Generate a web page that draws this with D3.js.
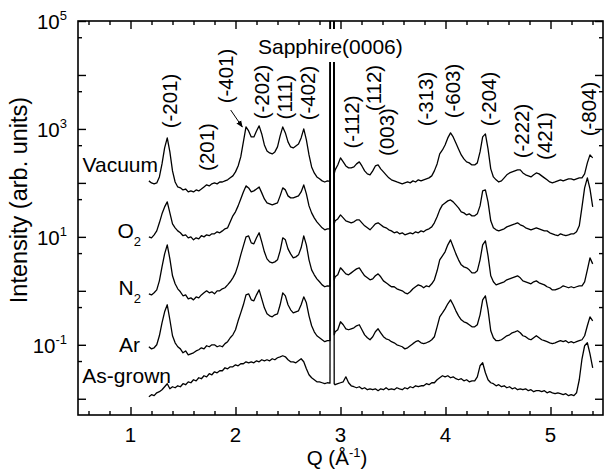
<!DOCTYPE html>
<html>
<head>
<meta charset="utf-8">
<script src="https://cdn.jsdelivr.net/npm/d3@7"></script>
<style>
  body { margin: 0; background: #fff; }
  text { font-family: "Liberation Sans", Arial, sans-serif; fill: #000; }
</style>
</head>
<body>
<svg id="chart"></svg>
<script>
var WIDTH = 612;
var HEIGHT = 472;

// Q grid (1/A), shared by every scan; the four points around 2.92 are the sapphire spike
var q = [1.175,1.2,1.225,1.25,1.275,1.3,1.325,1.35,1.375,1.4,1.425,1.45,1.475,1.5,1.525,1.55,1.575,1.6,1.625,1.65,
  1.675,1.7,1.725,1.75,1.775,1.8,1.825,1.85,1.875,1.9,1.925,1.95,1.975,2,2.025,2.05,2.075,2.1,2.125,2.15,
  2.175,2.2,2.225,2.25,2.275,2.3,2.325,2.35,2.375,2.4,2.425,2.45,2.475,2.5,2.525,2.55,2.575,2.6,2.625,2.65,
  2.675,2.7,2.725,2.75,2.775,2.8,2.825,2.85,2.875,
  2.9,2.905,2.935,2.94,
  2.949,2.974,3,3.026,3.051,3.077,3.102,3.128,3.153,3.179,3.204,3.23,3.256,3.281,3.307,3.332,3.358,3.383,3.409,3.434,
  3.46,3.485,3.511,3.537,3.562,3.588,3.613,3.639,3.664,3.69,3.715,3.741,3.767,3.792,3.818,3.843,3.869,3.894,3.92,3.945,
  3.971,3.996,4.022,4.048,4.073,4.099,4.124,4.15,4.175,4.201,4.226,4.252,4.278,4.303,4.329,4.354,4.38,4.405,4.431,4.456,
  4.482,4.507,4.533,4.559,4.584,4.61,4.635,4.661,4.686,4.712,4.737,4.763,4.789,4.814,4.84,4.865,4.891,4.916,4.942,4.967,
  4.993,5.018,5.044,5.07,5.095,5.121,5.146,5.172,5.197,5.223,5.248,5.274,5.3,5.325,5.351,5.376,5.402];

var vacuum = [109,100,96,100,129,225,445,681,375,167,104,84,81,74,77,68,71,68,74,71,
  77,84,92,88,96,100,96,104,104,109,114,124,135,160,206,303,575,1089,918,711,
  711,918,1137,808,505,391,359,344,375,464,742,1089,843,575,464,445,484,528,681,1000,
  626,330,198,153,129,119,109,104,109,
  107,1e7,1e7,147,
  174,215,291,245,206,190,190,198,225,245,206,167,147,141,167,206,215,182,160,
  141,124,114,109,104,100,96,100,104,100,109,104,114,109,114,119,124,135,167,225,
  344,408,505,681,843,711,551,426,330,278,245,235,215,215,235,375,711,808,426,182,
  129,114,104,109,124,141,153,160,167,174,174,153,141,135,129,141,153,147,135,124,
  114,104,100,104,109,114,109,114,119,119,114,119,124,124,147,235,330,291];

var o2 = [10,9.6,10.9,12.9,18.2,26.7,35.9,44.5,27.8,17.4,14.7,12.9,11.9,10.5,10.9,9.6,10,8.8,9.6,9.2,
  10.5,10,10.9,10.5,11.4,11.4,12.4,11.9,12.9,14.1,14.7,19,24.5,29.1,37.5,50.5,68.1,88,80.8,68.1,
  71.1,77.4,84.3,65.3,50.5,42.6,40.8,39.1,40.8,42.6,57.5,80.8,74.2,57.5,52.8,52.8,55.1,57.5,68.1,91.8,
  62.6,37.5,27.8,22.5,19,16.7,14.7,13.5,14.1,
  14,1e7,1e7,17.4,
  19.8,21.5,25.5,22.5,19.8,19,18.2,19,20.6,20.6,18.2,16,14.7,13.5,15.3,17.4,18.2,16.7,15.3,
  14.7,13.5,12.9,11.9,12.4,11.4,11.9,10.9,11.4,11.9,11.4,12.4,11.9,12.9,12.4,13.5,14.1,15.3,18.2,23.5,
  31.6,39.1,42.6,46.4,48.4,44.5,39.1,34.4,29.1,27.8,25.5,26.7,24.5,24.5,26.7,37.5,71.1,74.2,44.5,19.8,
  14.7,13.5,12.9,13.5,14.1,15.3,16,16.7,17.4,18.2,16.7,16,14.7,14.1,13.5,14.1,14.7,14.1,13.5,12.9,
  12.9,11.9,11.4,10.9,10.5,11.4,10.9,10.5,10.9,11.4,11.4,12.4,16,35.9,80.8,124,77.4,35.9];

var n2 = [0.88,0.84,0.92,1.04,1.53,2.78,4.84,7.11,3.91,1.9,1.35,1.09,0.96,0.81,0.84,0.71,0.74,0.68,0.77,0.74,
  0.84,0.92,1,0.92,0.96,0.88,1,1,1.09,1.14,1.29,1.47,1.74,2.15,3.03,4.64,6.81,10,10.4,7.74,
  7.42,9.6,11.9,8.08,5.28,3.91,3.44,3.3,3.44,3.75,5.51,9.6,8.8,5.99,4.84,4.08,4.26,4.64,6.26,10.4,
  7.11,3.75,2.45,1.98,1.67,1.47,1.29,1.19,1.24,
  1.22,1e7,1e7,1.6,
  1.82,1.98,2.67,2.35,2.06,1.98,2.15,2.35,2.55,2.67,2.25,1.9,1.74,1.6,1.67,1.9,2.06,1.82,1.53,
  1.41,1.29,1.19,1.19,1.09,1.04,1,0.92,0.88,0.96,1.09,1.19,1.29,1.24,1.14,1.24,1.19,1.35,1.6,2.35,
  3.75,4.45,5.28,7.11,8.8,6.53,4.84,3.75,3.03,2.78,2.67,2.45,2.15,2.15,2.35,3.75,7.11,8.43,4.45,1.9,
  1.47,1.29,1.35,1.41,1.47,1.6,1.67,1.74,1.82,1.9,1.74,1.53,1.47,1.41,1.35,1.47,1.53,1.41,1.35,1.29,
  1.19,1.14,1.04,1.04,1.09,1.14,1.24,1.19,1.14,1.19,1.14,1.19,1.24,1.24,1.47,2.45,4.08,3.16];

var ar = [0.092,0.084,0.088,0.1,0.147,0.255,0.408,0.551,0.291,0.147,0.109,0.092,0.084,0.071,0.077,0.065,0.068,0.071,0.077,0.081,
  0.088,0.084,0.096,0.092,0.1,0.1,0.092,0.096,0.092,0.105,0.114,0.135,0.153,0.19,0.278,0.391,0.551,0.843,0.88,0.681,
  0.653,0.843,1.04,0.711,0.484,0.375,0.344,0.33,0.359,0.375,0.551,0.918,0.808,0.551,0.445,0.391,0.408,0.426,0.551,0.774,
  0.599,0.344,0.225,0.174,0.147,0.135,0.124,0.114,0.119,
  0.12,1e7,1e7,0.153,
  0.174,0.19,0.267,0.235,0.198,0.19,0.198,0.206,0.225,0.235,0.19,0.153,0.135,0.124,0.141,0.174,0.198,0.167,0.141,
  0.129,0.124,0.114,0.109,0.1,0.096,0.092,0.084,0.088,0.096,0.105,0.114,0.119,0.109,0.105,0.109,0.114,0.124,0.141,0.215,
  0.33,0.391,0.464,0.575,0.681,0.551,0.426,0.344,0.291,0.267,0.255,0.235,0.215,0.215,0.235,0.359,0.681,0.808,0.445,0.182,
  0.135,0.119,0.119,0.124,0.135,0.147,0.153,0.167,0.174,0.182,0.167,0.147,0.141,0.129,0.124,0.135,0.147,0.135,0.124,0.119,
  0.114,0.109,0.105,0.109,0.114,0.119,0.114,0.119,0.109,0.114,0.109,0.114,0.119,0.124,0.147,0.225,0.33,0.278];

var asGrown = [0.0109,0.0119,0.0114,0.0129,0.0135,0.0147,0.0167,0.019,0.0153,0.0167,0.016,0.0174,0.0167,0.019,0.0182,0.0206,0.0198,0.0225,0.0215,0.0245,
  0.0235,0.0267,0.0255,0.0291,0.0278,0.0316,0.0303,0.033,0.033,0.0375,0.0359,0.0391,0.0391,0.0426,0.0408,0.0445,0.0445,0.0484,0.0464,0.0484,
  0.0464,0.0505,0.0484,0.0528,0.0505,0.0528,0.0505,0.0551,0.0528,0.0575,0.0599,0.0626,0.0599,0.0528,0.0484,0.0484,0.0464,0.0505,0.0551,0.0484,
  0.0359,0.0278,0.0245,0.0225,0.0206,0.0206,0.0198,0.019,0.0198,
  0.0195,1e7,1e7,0.019,
  0.0182,0.019,0.0198,0.0206,0.0255,0.0198,0.0174,0.0167,0.016,0.0167,0.0153,0.016,0.0147,0.0153,0.0147,0.0153,0.0141,0.0153,0.0147,
  0.016,0.0147,0.0153,0.0147,0.016,0.0153,0.0147,0.016,0.0153,0.0167,0.016,0.0174,0.0167,0.0174,0.0174,0.019,0.0182,0.0198,0.0198,0.0225,
  0.0245,0.0267,0.0255,0.0267,0.0245,0.0255,0.0235,0.0225,0.0235,0.0215,0.0225,0.0206,0.0215,0.0215,0.0255,0.0408,0.0464,0.0303,0.0225,0.0198,
  0.019,0.0174,0.0182,0.0167,0.0174,0.016,0.0167,0.0153,0.016,0.0147,0.0153,0.0147,0.0153,0.0141,0.0147,0.0135,0.0141,0.0141,0.0135,0.0141,
  0.0129,0.0135,0.0129,0.0124,0.0129,0.0124,0.0119,0.0124,0.0114,0.0119,0.0114,0.0129,0.0225,0.0551,0.096,0.109,0.0681,0.0375];

var seriesNames = ['Vacuum', 'O2', 'N2', 'Ar', 'As-grown'];
var seriesValues = [vacuum, o2, n2, ar, asGrown];

// reflection labels and the Q they sit over
var peakNames = ['(-201)','(201)','(-401)','(-202)','(111)','(-402)','(-112)','(112)','(003)','(-313)','(-603)','(-204)','(-222)','(421)','(-804)'];
var peakQ = [1.37,1.725,1.9,2.245,2.47,2.687,3.102,3.317,3.436,3.812,4.063,4.405,4.723,4.942,5.365];
// vertical centre of each rotated label, px
var peakLabelY = [101,147,76,92,97,93,122,88,132,99,91,99,131,136,109];

var xMajor = [1, 2, 3, 4, 5];
var xMinor = [0.6,0.8,1.2,1.4,1.6,1.8,2.2,2.4,2.6,2.8,3.2,3.4,3.6,3.8,4.2,4.4,4.6,4.8,5.2,5.4];
var yMajor = [0.01, 0.1, 1, 10, 100, 1000, 10000, 100000];
var yMinor = [0.05, 0.5, 5, 50, 500, 5000, 50000];
var yLabelExp = [-1, 1, 3, 5];

var L = 78, R = 603, T = 21, B = 415;

var svg = d3.select('#chart')
  .attr('width', WIDTH)
  .attr('height', HEIGHT);

var xScale = d3.scaleLinear().domain([0.5, 5.5]).range([L, R]);
var yScale = d3.scaleLog().domain([0.005, 1e5]).range([B, T]);

svg.append('defs').append('clipPath').attr('id', 'plot-clip')
  .append('rect')
  .attr('x', L).attr('y', T)
  .attr('width', R - L).attr('height', B - T);

var line = d3.line()
  .x(function(d){ return xScale(d[0]); })
  .y(function(d){ return yScale(d[1]); });

svg.append('g')
  .attr('clip-path', 'url(#plot-clip)')
  .selectAll('path')
  .data(seriesValues)
  .enter()
  .append('path')
  .attr('d', function(values){
    return line(values.map(function(v, i){ return [q[i], v]; }));
  })
  .attr('fill', 'none')
  .attr('stroke', '#000')
  .attr('stroke-width', 1.3)
  .attr('stroke-linejoin', 'round');

// axes: frame plus inward ticks on all four sides
var axisGroups = [
  { axis: d3.axisBottom, scale: xScale, at: 'translate(0,' + B + ')', major: xMajor, minor: xMinor },
  { axis: d3.axisTop, scale: xScale, at: 'translate(0,' + T + ')', major: xMajor, minor: xMinor },
  { axis: d3.axisLeft, scale: yScale, at: 'translate(' + L + ',0)', major: yMajor, minor: yMinor },
  { axis: d3.axisRight, scale: yScale, at: 'translate(' + R + ',0)', major: yMajor, minor: yMinor }
];
axisGroups.forEach(function(a){
  [[a.major, 8], [a.minor, 4]].forEach(function(set){
    var g = svg.append('g')
      .attr('transform', a.at)
      .call(a.axis(a.scale).tickValues(set[0]).tickSize(-set[1]).tickFormat(''));
    g.select('.domain').remove();
    g.selectAll('line').attr('stroke', '#000').attr('stroke-width', 1.4);
  });
});

svg.append('rect')
  .attr('x', L).attr('y', T)
  .attr('width', R - L).attr('height', B - T)
  .attr('fill', 'none')
  .attr('stroke', '#000')
  .attr('stroke-width', 1.6);

// tick labels
svg.append('g').selectAll('text')
  .data(xMajor)
  .enter()
  .append('text')
  .attr('x', function(d){ return xScale(d); })
  .attr('y', 442)
  .attr('text-anchor', 'middle')
  .attr('font-size', 20.5)
  .text(function(d){ return d; });

var yLabels = svg.append('g').selectAll('text')
  .data(yLabelExp)
  .enter()
  .append('text')
  .attr('x', 67)
  .attr('y', function(d){ return yScale(Math.pow(10, d)) + 8; })
  .attr('text-anchor', 'end')
  .attr('font-size', 20.5);
yLabels.append('tspan').text('10');
yLabels.append('tspan').attr('dy', -9).attr('font-size', 13).text(function(d){ return d; });

// axis titles
var xTitle = svg.append('text')
  .attr('x', 337).attr('y', 465)
  .attr('text-anchor', 'middle')
  .attr('font-size', 20.5);
xTitle.append('tspan').text('Q (\u00C5');
xTitle.append('tspan').attr('dy', -8).attr('font-size', 13).text('-1');
xTitle.append('tspan').attr('dy', 8).text(')');

svg.append('text')
  .attr('transform', 'translate(27,200) rotate(-90)')
  .attr('text-anchor', 'middle')
  .attr('font-size', 23.5)
  .text('Intensity (arb. units)');

// sample names
var nameX = [158, 141, 141, 140, 171];
var nameY = [172, 238, 295, 352, 383];
var names = svg.append('g').selectAll('text')
  .data(seriesNames)
  .enter()
  .append('text')
  .attr('x', function(d, i){ return nameX[i]; })
  .attr('y', function(d, i){ return nameY[i]; })
  .attr('text-anchor', 'end')
  .attr('font-size', 21);
names.each(function(d){
  var t = d3.select(this);
  if (d === 'O2' || d === 'N2') {
    t.append('tspan').text(d.charAt(0));
    t.append('tspan').attr('dy', 8).attr('font-size', 13).text('2');
  } else {
    t.text(d);
  }
});

// reflection labels
svg.append('g').selectAll('text')
  .data(peakNames)
  .enter()
  .append('text')
  .attr('transform', function(d, i){
    return 'translate(' + xScale(peakQ[i]) + ',' + peakLabelY[i] + ') rotate(-90)';
  })
  .attr('text-anchor', 'middle')
  .attr('dominant-baseline', 'central')
  .attr('font-size', 20.5)
  .text(function(d){ return d; });

// arrow from (-401) to its peak
svg.append('defs').append('marker')
  .attr('id', 'head')
  .attr('viewBox', '0 0 10 10')
  .attr('refX', 9).attr('refY', 5)
  .attr('markerWidth', 7).attr('markerHeight', 7)
  .attr('markerUnits', 'userSpaceOnUse')
  .attr('orient', 'auto')
  .append('path')
  .attr('d', 'M0,1L10,5L0,9Z')
  .attr('fill', '#000');

svg.append('line')
  .attr('x1', xScale(1.954)).attr('y1', 110)
  .attr('x2', xScale(2.065)).attr('y2', 127)
  .attr('stroke', '#000')
  .attr('stroke-width', 1)
  .attr('marker-end', 'url(#head)');

// substrate label sits on a white box that hides the clipped spike
svg.append('rect')
  .attr('x', 255).attr('y', 29)
  .attr('width', 152).attr('height', 33)
  .attr('fill', '#fff');
svg.append('text')
  .attr('x', 258).attr('y', 54)
  .attr('font-size', 21)
  .text('Sapphire(0006)');
</script>
</body>
</html>
